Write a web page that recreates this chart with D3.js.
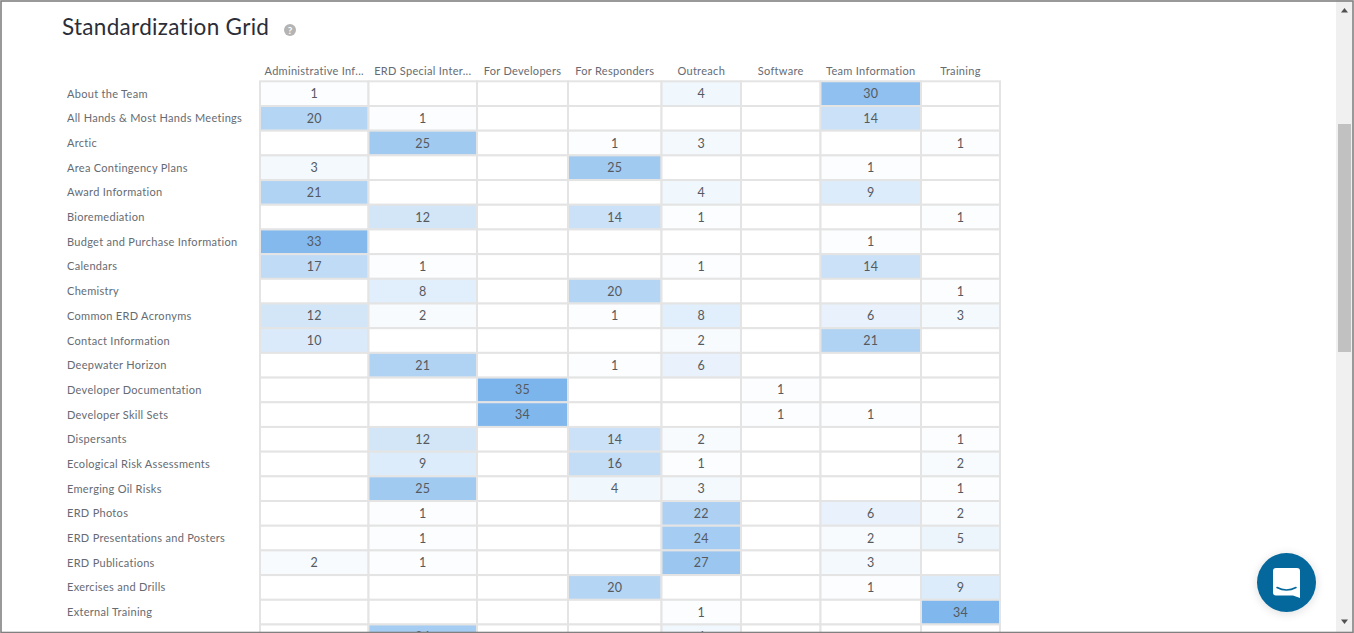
<!DOCTYPE html>
<html><head><meta charset="utf-8">
<script src="https://cdn.jsdelivr.net/npm/d3@7/dist/d3.min.js"></script>
<style>html,body{margin:0;padding:0;background:#fff;overflow:hidden}svg{display:block}text{font-family:Lato,"Open Sans",sans-serif}</style>
</head><body><svg id="c" width="1354" height="633"></svg>
<script>
const titleText = "Standardization Grid";
const columns = ["Administrative Inf...","ERD Special Inter...","For Developers","For Responders","Outreach","Software","Team Information","Training"];
const rows = ["About the Team","All Hands & Most Hands Meetings","Arctic","Area Contingency Plans","Award Information","Bioremediation","Budget and Purchase Information","Calendars","Chemistry","Common ERD Acronyms","Contact Information","Deepwater Horizon","Developer Documentation","Developer Skill Sets","Dispersants","Ecological Risk Assessments","Emerging Oil Risks","ERD Photos","ERD Presentations and Posters","ERD Publications","Exercises and Drills","External Training",""];
const _ = null;
const administrative = [1,20,_,3,21,_,33,17,_,12,10,_,_,_,_,_,_,_,_,2,_,_,_];
const erdSpecial     = [_,1,25,_,_,12,_,1,8,2,_,21,_,_,12,9,25,1,1,1,_,_,24];
const forDevelopers  = [_,_,_,_,_,_,_,_,_,_,_,_,35,34,_,_,_,_,_,_,_,_,_];
const forResponders  = [_,_,1,25,_,14,_,_,20,1,_,1,_,_,14,16,4,_,_,_,20,_,_];
const outreach       = [4,_,3,_,4,1,_,1,_,8,2,6,_,_,2,1,3,22,24,27,_,1,4];
const software       = [_,_,_,_,_,_,_,_,_,_,_,_,1,1,_,_,_,_,_,_,_,_,_];
const teamInfo       = [30,14,_,1,9,_,1,14,_,6,21,_,_,1,_,_,_,6,2,3,1,_,_];
const training       = [_,_,1,_,_,1,_,_,1,3,_,_,_,_,1,2,1,2,5,_,9,34,_];
const seriesByColumn = [administrative,erdSpecial,forDevelopers,forResponders,outreach,software,teamInfo,training];
const maxValue = 35;

// layout (not data)
const colEdges = [260,368.5,477,568,661.5,741,820.5,921,1000];
const rowTop = 81.3, rowStep = 24.69;

const svg = d3.select("#c");
const x0 = d3.scaleOrdinal().domain(columns).range(colEdges.slice(0,-1));
const x1 = d3.scaleOrdinal().domain(columns).range(colEdges.slice(1));
const y = d3.scaleBand().domain(d3.range(rows.length)).range([rowTop,rowTop+rowStep*rows.length]);
const color = d3.scaleLinear().domain([0,maxValue]).range(["#ffffff","#7cb5ec"]);

const cells = columns.flatMap((c,ci)=>rows.map((r,ri)=>({c,ri,v:seriesByColumn[ci][ri]})));

svg.append("g").selectAll("rect").data(cells).join("rect")
  .attr("x",d=>x0(d.c)).attr("y",d=>y(d.ri))
  .attr("width",d=>x1(d.c)-x0(d.c)).attr("height",y.bandwidth())
  .attr("fill",d=>d.v==null?"#fff":color(d.v))
  .attr("stroke","#e4e4e4").attr("stroke-width",2);

svg.append("g").selectAll("text").data(cells.filter(d=>d.v!=null)).join("text")
  .attr("x",d=>(x0(d.c)+x1(d.c))/2).attr("y",d=>y(d.ri)+y.bandwidth()/2+4.5)
  .attr("text-anchor","middle").attr("font-size",12.5).attr("fill","#555a60").attr("letter-spacing",0.3)
  .text(d=>d.v);

svg.append("g").selectAll("text").data(columns).join("text")
  .attr("x",d=>(x0(d)+x1(d))/2).attr("y",74.5)
  .attr("text-anchor","middle").attr("font-size",11).attr("fill","#666b72").attr("letter-spacing",0.3)
  .text(d=>d);

svg.append("g").selectAll("text").data(rows).join("text")
  .attr("x",67).attr("y",(d,i)=>y(i)+y.bandwidth()/2+4)
  .attr("font-size",11).attr("fill","#666b72").attr("letter-spacing",0.3)
  .text(d=>d);

svg.append("text").attr("x",62).attr("y",35).attr("font-size",22.5).attr("fill","#2b2e38").attr("letter-spacing",0.3).text(titleText);
svg.append("circle").attr("cx",290).attr("cy",30).attr("r",6).attr("fill","#b4b4b4");
svg.append("text").attr("x",290).attr("y",33.5).attr("text-anchor","middle").attr("font-size",10).attr("font-weight",700).attr("fill","#fff").text("?");

// scrollbar
svg.append("rect").attr("x",1336).attr("y",0).attr("width",16).attr("height",633).attr("fill","#f0f0f0");
svg.append("rect").attr("x",1338).attr("y",124).attr("width",13).attr("height",228).attr("fill","#c1c1c1");
svg.append("path").attr("d","M1344.5 8l-3.5 4.5h7z").attr("fill","#505050");
svg.append("path").attr("d","M1341 619.5h7l-3.5 4.5z").attr("fill","#505050");

// chat button
const defs = svg.append("defs");
const f = defs.append("filter").attr("id","s").attr("x","-30%").attr("y","-30%").attr("width","160%").attr("height","160%");
f.append("feGaussianBlur").attr("stdDeviation",5);
svg.append("circle").attr("cx",1286.5).attr("cy",584).attr("r",30).attr("fill","#000").attr("opacity",0.12).attr("filter","url(#s)");
svg.append("circle").attr("cx",1286.5).attr("cy",582.5).attr("r",29.5).attr("fill","#05689c");
svg.append("path").attr("d","M1276 568h21a3 3 0 0 1 3 3v27l-7-2.5h-17a3 3 0 0 1-3-3v-21.5a3 3 0 0 1 3-3z").attr("fill","#fff");
svg.append("path").attr("d","M1277 587.5q9.5 5 19 0").attr("fill","none").attr("stroke","#05689c").attr("stroke-width",1.6).attr("stroke-linecap","round");

// window frame
svg.append("rect").attr("x",1).attr("y",1).attr("width",1352).attr("height",631.5).attr("fill","none").attr("stroke","#808080").attr("stroke-width",1.6);
</script></body></html>
